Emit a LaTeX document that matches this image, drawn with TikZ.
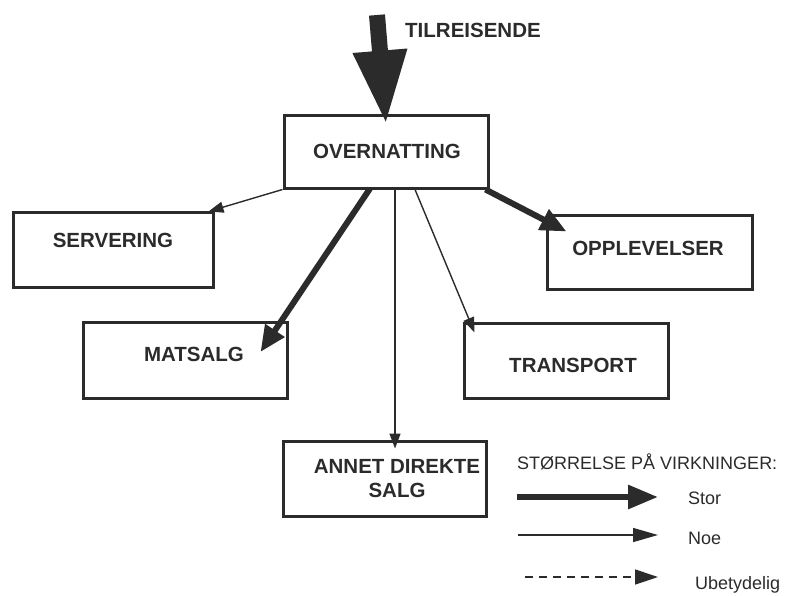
\documentclass[tikz,border=0pt]{standalone}
\usepackage{fontspec}
\setmainfont{Liberation Sans}
\usetikzlibrary{arrows.meta}
\definecolor{ink}{HTML}{2B2B2B}
\tikzset{
  box/.style={draw=ink, line width=3pt, minimum width=#1, inner sep=0pt},
  lbl/.style={font=\fontsize{20.5}{23}\selectfont\bfseries, text=ink, inner sep=0pt},
  leg/.style={font=\fontsize{18}{21}\selectfont, text=ink, inner sep=0pt, anchor=west},
  thin/.style={draw=ink, line width=1.4pt, -{Triangle[width=11pt,length=15pt]}},
  thick/.style={draw=ink, line width=6pt, -{Triangle[width=22pt,length=26pt]}},
}
\begin{document}
\begin{tikzpicture}[x=1pt,y=-1pt]
\useasboundingbox (0,0) rectangle (787,595);
% boxes
\node[box=204pt, minimum height=73pt] (over) at (386,151.5) {};
\node[box=200pt, minimum height=75pt] (serv) at (113,249.5) {};
\node[box=204pt, minimum height=76pt] (mat) at (185,360) {};
\node[box=205pt, minimum height=74pt] (opp) at (649.5,252) {};
\node[box=204pt, minimum height=75pt] (trans) at (566,360.5) {};
\node[box=203pt, minimum height=75pt] (annet) at (384.5,478.5) {};
% labels
\node[lbl] at (387,151) {OVERNATTING};
\node[lbl] at (113,240) {SERVERING};
\node[lbl] at (194,354) {MATSALG};
\node[lbl] at (648,248.5) {OPPLEVELSER};
\node[lbl] at (573,365.5) {TRANSPORT};
\node[lbl, align=center] at (397,478.5) {ANNET DIREKTE\\[1pt]SALG};
% big incoming arrow
\coordinate (in) at (377,15);
\node[lbl, anchor=west] (tilr) at (405,30) {TILREISENDE};
\draw[draw=ink, line width=16pt, -{Triangle[width=50pt,length=74pt]}] (in) -- ([yshift=-11pt]over.north);
% connectors
\draw[thin] (over.south west) -- ([xshift=-6pt,yshift=-1pt]serv.north east);
\draw[thick] ([xshift=-16pt,yshift=1pt]over.south) -- ([xshift=-28pt,yshift=8pt]mat.east);
\draw[thin] ([xshift=9pt]over.south) -- ([xshift=10.5pt,yshift=-9pt]annet.north);
\draw[thin] ([xshift=29pt]over.south) -- ([xshift=12pt,yshift=-11pt]trans.north west);
\draw[thick] ([xshift=-4pt]over.south east) -- ([xshift=21pt,yshift=-18pt]opp.north west);
% legend
\node[leg] (legt) at (517,462) {STØRRELSE PÅ VIRKNINGER:};
\coordinate (s1) at (517,497); \coordinate (e1) at (658,497);
\coordinate (s2) at (518,535); \coordinate (e2) at (658,535);
\coordinate (s3) at (525,577); \coordinate (e3) at (658,577);
\draw[draw=ink, line width=6pt, -{Triangle[width=23pt,length=30pt]}] (s1) -- (e1);
\draw[draw=ink, line width=1.4pt, -{Triangle[width=14pt,length=25pt]}] (s2) -- (e2);
\draw[draw=ink, line width=1.4pt, dash pattern=on 8pt off 6pt, -{Triangle[width=15pt,length=23pt]}] (s3) -- (e3);
\node[leg] (stor) at (688,498) {Stor};
\node[leg] (noe) at (688,538) {Noe};
\node[leg] (ubet) at (695,585) {Ubetydelig};
\end{tikzpicture}
\end{document}
